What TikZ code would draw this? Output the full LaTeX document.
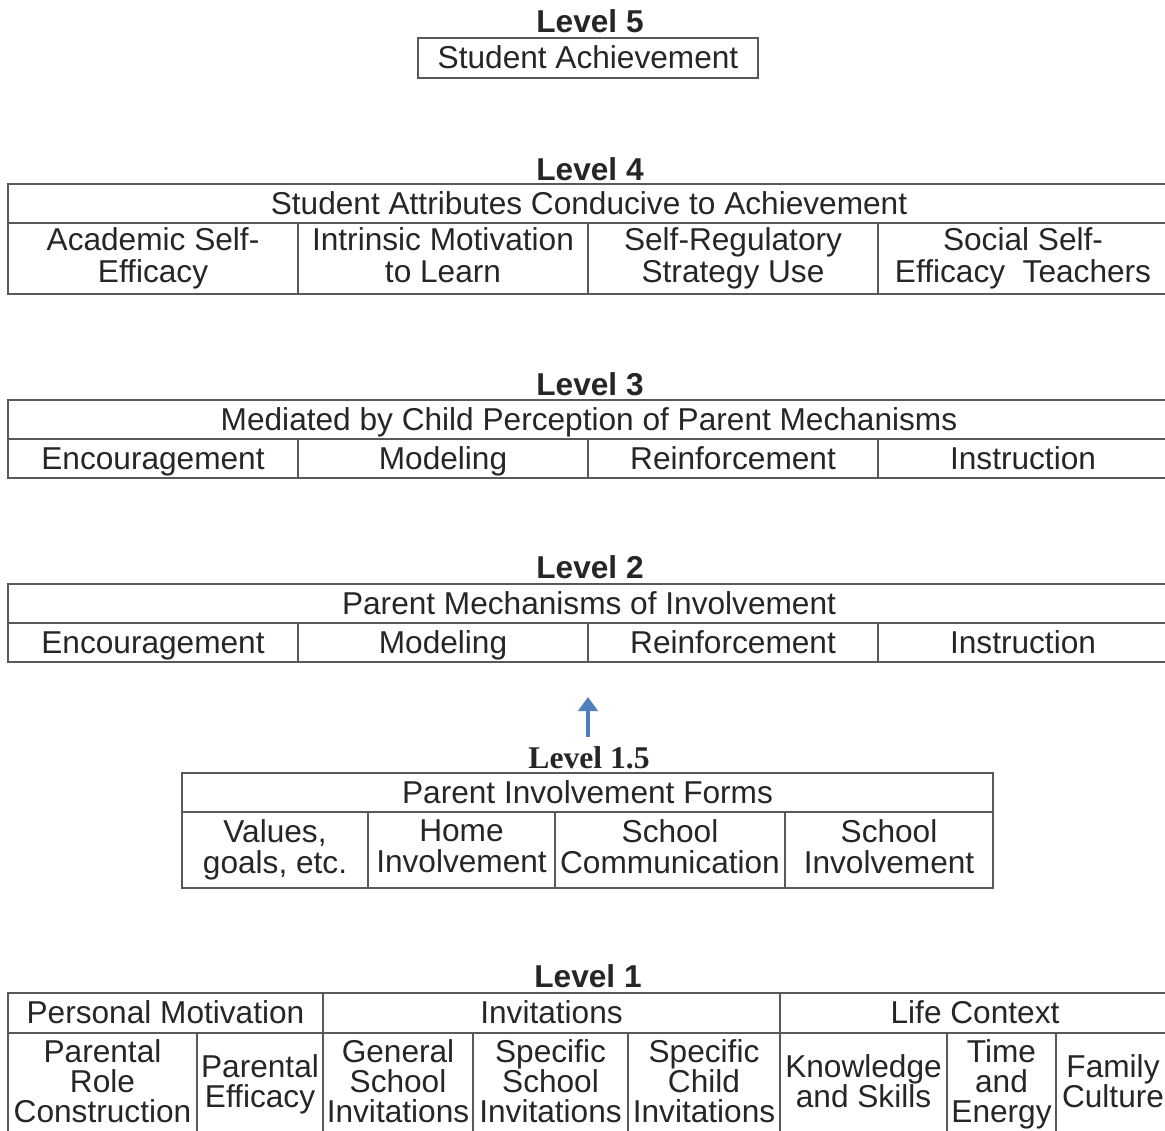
\documentclass[tikz,border=0pt]{standalone}
\usepackage{fontspec}
\setmainfont{Liberation Sans}
\newfontfamily\timesbold{Liberation Serif}
\usetikzlibrary{arrows.meta}
\usepackage{xcolor}
\colorlet{lineGray}{black!65}
\colorlet{textDark}{black!85}
\definecolor{arrowBlue}{RGB}{78,128,188}

\begin{document}
\begin{tikzpicture}[x=0.02cm, y=-0.02cm,
    font=\fontsize{18}{17.5}\selectfont,
    cell/.style={draw=lineGray, line width=1pt, inner sep=0pt, align=center, text=textDark,
      execute at begin node=\rule{0pt}{16pt}, execute at end node=\rule[-4pt]{0pt}{4pt}},
    levelTitle/.style={font=\fontsize{18}{18}\selectfont\bfseries, text=textDark, inner sep=1pt}]
  \clip (0,0) rectangle (1165,1131);

  % level 5
  \node[levelTitle] (t5) at (590,21) {Level 5};
  \node[cell, minimum width=6.8cm, minimum height=0.8cm] (l5) at (588,58) {Student Achievement};

  % level 4
  \node[levelTitle] (t4) at (590,169) {Level 4};
  \node[cell, minimum width=23.24cm, minimum height=0.78cm] (l4h) at (589,203.5)
    {Student Attributes Conducive to Achievement};
  \begin{scope}[font=\fontsize{18}{18.5}\selectfont]
    \node[cell, minimum width=5.8cm, minimum height=1.42cm] (l4a) at (153,258.5) {Academic Self-\\Efficacy};
    \node[cell, minimum width=5.8cm, minimum height=1.42cm] (l4b) at (443,258.5) {Intrinsic Motivation\\to Learn};
    \node[cell, minimum width=5.8cm, minimum height=1.42cm] (l4c) at (733,258.5) {Self-Regulatory\\Strategy Use};
    \node[cell, minimum width=5.8cm, minimum height=1.42cm] (l4d) at (1023,258.5) {Social Self-\\Efficacy\ \ Teachers};
  \end{scope}

  % level 3
  \node[levelTitle] (t3) at (590,384) {Level 3};
  \node[cell, minimum width=23.24cm, minimum height=0.78cm] (l3h) at (589,419.5)
    {Mediated by Child Perception of Parent Mechanisms};
  \foreach \x/\t [count=\i] in {153/Encouragement, 443/Modeling, 733/Reinforcement, 1023/Instruction}
    \node[cell, minimum width=5.8cm, minimum height=0.78cm] (l3c\i) at (\x,458.5) {\t};

  % level 2
  \node[levelTitle] (t2) at (590,567) {Level 2};
  \node[cell, minimum width=23.24cm, minimum height=0.78cm] (l2h) at (589,603.5)
    {Parent Mechanisms of Involvement};
  \foreach \x/\t [count=\i] in {153/Encouragement, 443/Modeling, 733/Reinforcement, 1023/Instruction}
    \node[cell, minimum width=5.8cm, minimum height=0.78cm] (l2c\i) at (\x,642.5) {\t};

  % arrow up to level 2
  \coordinate (arrTail) at (588,737);
  \coordinate (arrTip) at (588,697);
  \draw[arrowBlue, line width=2.3pt, -{Triangle[length=8pt,width=11pt]}] (arrTail) -- (arrTip);

  % level 1.5
  \node[levelTitle, font=\fontsize{18}{18}\selectfont\timesbold\bfseries] (t15) at (589,758) {Level 1.5};
  \node[cell, minimum width=16.22cm, minimum height=0.78cm] (l15h) at (587.5,792.5) {Parent Involvement Forms};
  \node[cell, minimum width=3.72cm, minimum height=1.52cm] (l15a) at (275,850) {Values,\\goals, etc.};
  \node[cell, minimum width=3.74cm, minimum height=1.52cm] (l15b) at (461.5,850) {Home\\Involvement};
  \node[cell, minimum width=4.6cm, minimum height=1.52cm] (l15c) at (670,850) {School\\Communication};
  \node[cell, minimum width=4.16cm, minimum height=1.52cm] (l15d) at (889,850) {School\\Involvement};

  % level 1
  \node[levelTitle] (t1) at (588,976) {Level 1};
  \node[cell, minimum width=6.3cm, minimum height=0.8cm] (l1p) at (165.5,1013) {Personal Motivation};
  \node[cell, minimum width=9.14cm, minimum height=0.8cm] (l1i) at (551.5,1013) {Invitations};
  \node[cell, minimum width=7.8cm, minimum height=0.8cm] (l1l) at (975,1013) {Life Context};
  \begin{scope}[font=\fontsize{18}{17}\selectfont]
    \node[cell, minimum width=3.78cm, minimum height=2.04cm] (l1a) at (102.5,1084.5) {Parental\\Role\\Construction};
    \node[cell, minimum width=2.52cm, minimum height=2.04cm] (l1b) at (260,1084.5) {Parental\\Efficacy};
    \node[cell, minimum width=3.0cm, minimum height=2.04cm] (l1c) at (398,1084.5) {General\\School\\Invitations};
    \node[cell, minimum width=3.1cm, minimum height=2.04cm] (l1d) at (550.5,1084.5) {Specific\\School\\Invitations};
    \node[cell, minimum width=3.04cm, minimum height=2.04cm] (l1e) at (704,1084.5) {Specific\\Child\\Invitations};
    \node[cell, minimum width=3.34cm, minimum height=2.04cm] (l1f) at (863.5,1084.5) {Knowledge\\and Skills};
    \node[cell, minimum width=2.18cm, minimum height=2.04cm] (l1g) at (1001.5,1084.5) {Time\\and\\Energy};
    \node[cell, minimum width=2.28cm, minimum height=2.04cm] (l1h) at (1113,1084.5) {Family\\Culture};
  \end{scope}
\end{tikzpicture}
\end{document}
